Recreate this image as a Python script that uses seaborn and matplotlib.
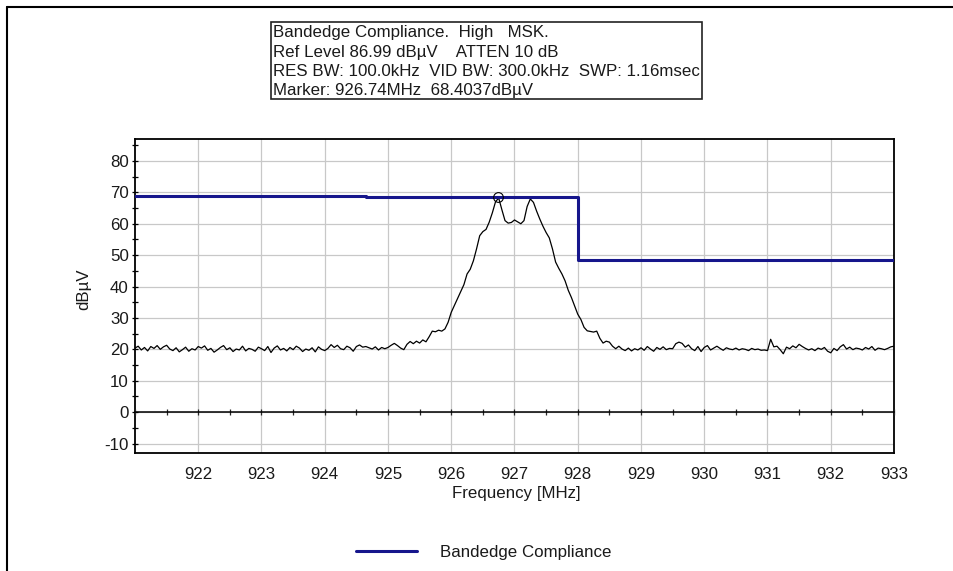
import matplotlib
matplotlib.use("Agg")
import matplotlib.pyplot as plt
import matplotlib.ticker as mticker
from matplotlib.lines import Line2D
from matplotlib.patches import Rectangle
import numpy as np
import pandas as pd
import seaborn as sns

# ---------------- data ----------------
start_freq = 921.0
stop_freq = 933.0
trace_level = [
    # 921.00 - 924.95
    20.4, 21.0, 19.8, 20.6, 19.5, 20.9, 20.3, 21.2, 20.0, 20.8,
    21.3, 20.1, 19.6, 20.5, 19.2, 19.9, 20.7, 19.4, 20.2, 19.8,
    20.9, 20.4, 21.1, 19.7, 20.3, 19.1, 19.8, 20.6, 21.2, 19.9,
    20.5, 19.3, 20.1, 19.8, 21.0, 19.5, 20.3, 20.0, 19.4, 20.7,
    20.2, 19.6, 20.9, 19.0, 20.4, 21.1, 19.8, 20.3, 19.5, 20.6,
    19.9, 21.0, 20.4, 19.3, 20.1, 19.7, 20.5, 19.2, 20.8, 20.0,
    19.6, 20.3, 21.5, 20.6, 21.3, 20.2, 19.9, 21.0, 20.5, 19.4,
    20.9, 21.4, 20.7, 20.9, 20.5, 20.1, 20.8, 19.8, 20.6, 20.2,
    # 925.00 - 925.95
    20.6, 21.3, 21.9, 21.2, 20.4, 19.9, 21.6, 22.5, 21.8, 22.6,
    22.0, 23.0, 22.4, 24.0, 25.8, 25.6, 26.1, 25.8, 26.5, 28.6,
    # 926.00 - 926.95
    31.8, 34.0, 36.2, 38.4, 40.6, 44.0, 45.5, 48.2, 52.0, 56.2,
    57.5, 58.2, 60.5, 63.5, 67.0, 68.2, 64.5, 61.0, 60.2, 60.4,
    # 927.00 - 927.95
    61.2, 60.6, 60.0, 61.0, 65.5, 67.9, 66.8, 64.0, 61.5, 59.2,
    57.2, 55.5, 52.0, 47.8, 45.8, 44.0, 41.8, 38.8, 36.5, 33.8,
    # 928.00 - 928.95
    31.2, 29.5, 27.0, 25.9, 25.7, 25.5, 25.8, 23.5, 22.0, 22.6,
    22.3, 21.0, 20.2, 21.0, 20.1, 19.6, 20.4, 19.5, 20.2, 19.8,
    # 929.00 - 932.95
    20.5, 19.7, 20.9, 20.1, 19.4, 20.6, 20.0, 20.8, 19.9, 20.3,
    20.2, 21.8, 22.3, 21.9, 20.7, 21.4, 20.2, 19.6, 20.9, 19.3,
    20.6, 21.2, 19.8, 20.4, 21.0, 20.3, 19.7, 20.5, 20.1, 19.9,
    20.4, 19.8, 20.2, 20.0, 19.6, 20.3, 19.9, 20.1, 19.7, 19.8,
    19.6, 23.2, 20.8, 21.0, 19.9, 18.6, 20.7, 20.2, 21.1, 20.5,
    21.6, 20.9, 20.3, 19.8, 20.2, 19.6, 20.4, 20.0, 20.6, 19.4,
    18.9, 20.3, 19.6, 20.8, 21.5, 20.1, 20.7, 19.9, 20.4, 20.2,
    19.8, 20.6, 20.1, 20.9, 19.7, 20.4, 20.2, 19.9, 20.3, 20.8,
    # 933.00
    21.0,
]
trace_freq = np.linspace(start_freq, stop_freq, len(trace_level))

limit_freq = [921.0, 924.65, 924.65, 928.0, 928.0, 933.0]
limit_level = [68.9, 68.9, 68.4, 68.4, 48.4, 48.4]

marker_freq = [926.74]
marker_level = [68.4037]

x_ticks = [922, 923, 924, 925, 926, 927, 928, 929, 930, 931, 932, 933]
y_ticks = [-10, 0, 10, 20, 30, 40, 50, 60, 70, 80]
ref_level = 86.99
y_bottom = -13.01

header_lines = [
    "Bandedge Compliance.  High   MSK.",
    "Ref Level 86.99 dB\u00b5V    ATTEN 10 dB",
    "RES BW: 100.0kHz  VID BW: 300.0kHz  SWP: 1.16msec",
    "Marker: 926.74MHz  68.4037dB\u00b5V",
]
legend_label = "Bandedge Compliance"

# ---------------- style ----------------
sns.set_style("white")
plt.rcParams["font.family"] = ["Liberation Sans", "DejaVu Sans"]
plt.rcParams["axes.unicode_minus"] = False
text_color = "#1a1a1a"
blue = "#16168c"
fs = 12.2

W, H = 954, 571
fig = plt.figure(figsize=(W / 100, H / 100), dpi=100)
fig.patch.set_facecolor("white")

L, R, T, B = 135, 894, 139, 453
ax = fig.add_axes([L / W, 1 - B / H, (R - L) / W, (B - T) / H])
ax.set_facecolor("white")

df = pd.DataFrame({"freq": trace_freq, "level": trace_level})
sns.lineplot(data=df, x="freq", y="level", ax=ax, color="black", lw=0.9,
             estimator=None, sort=False, legend=False, zorder=3)
lim_df = pd.DataFrame({"freq": limit_freq, "level": limit_level})
sns.lineplot(data=lim_df, x="freq", y="level", ax=ax, color=blue, lw=2.2,
             estimator=None, sort=False, legend=False, zorder=4)
ax.plot(marker_freq, marker_level, linestyle="none", marker="o", ms=7,
        mfc="none", mec="black", mew=0.8, zorder=5)

ax.set_xlim(start_freq, stop_freq)
ax.set_ylim(y_bottom, ref_level)
ax.set_xticks(x_ticks)
ax.set_yticks(y_ticks)
ax.yaxis.set_minor_locator(mticker.MultipleLocator(5))
ax.grid(True, which="major", color="#c8c8c8", lw=0.9)
ax.set_axisbelow(True)
for s in ax.spines.values():
    s.set_visible(True)
    s.set_color("black")
    s.set_linewidth(1.3)
ax.tick_params(axis="x", which="both", length=0, pad=10, labelsize=fs,
               labelcolor=text_color)
ax.tick_params(axis="y", which="both", direction="inout", length=5, width=0.9,
               left=True, color="black", pad=2, labelsize=fs, labelcolor=text_color)
ax.set_xlabel("Frequency [MHz]", fontsize=fs, color=text_color)
ax.set_ylabel("dB\u00b5V", fontsize=fs, color=text_color)
ax.xaxis.set_label_coords(0.502, -0.105)
ax.yaxis.set_label_coords(-0.057, 0.52)

# zero line with its own ticks
ax2 = ax.twiny()
ax2.set_xlim(start_freq, stop_freq)
ax2.xaxis.set_ticks_position("bottom")
ax2.spines["bottom"].set_position(("axes", (0 - y_bottom) / (ref_level - y_bottom)))
for k in ["top", "left", "right"]:
    ax2.spines[k].set_visible(False)
ax2.spines["bottom"].set_color("black")
ax2.spines["bottom"].set_linewidth(1.1)
ax2.xaxis.set_major_locator(mticker.MultipleLocator(1))
ax2.xaxis.set_minor_locator(mticker.MultipleLocator(0.5))
ax2.tick_params(axis="x", which="both", direction="inout", length=5, width=0.9,
                labelbottom=False, labeltop=False, top=False)

# header box
bx0, bx1, by0, by1 = 271, 702, 22, 99
fig.patches.append(Rectangle((bx0 / W, 1 - by1 / H), (bx1 - bx0) / W, (by1 - by0) / H,
                             transform=fig.transFigure, fill=False,
                             edgecolor="#222222", lw=1.2))
baselines = [38, 57.7, 77.3, 96.5]
for line, yb in zip(header_lines, baselines):
    fig.text(273.5 / W, 1 - (yb - 1) / H, line, fontsize=fs, color=text_color,
             ha="left", va="baseline")

# frame lines of the screenshot
fig.add_artist(Line2D([7 / W, 1], [1 - 7 / H, 1 - 7 / H], color="black", lw=1.5,
                      transform=fig.transFigure))
fig.add_artist(Line2D([7 / W, 7 / W], [1 - 7 / H, 0], color="black", lw=1.5,
                      transform=fig.transFigure))

# legend
handle = Line2D([], [], color=blue, lw=2.2)
fig.legend([handle], [legend_label], loc="center", bbox_to_anchor=(0.507, 0.032),
           frameon=False, fontsize=fs, handlelength=3.6, handletextpad=1.4,
           labelcolor=text_color)

fig.savefig("out.png", dpi=100, facecolor="white")
